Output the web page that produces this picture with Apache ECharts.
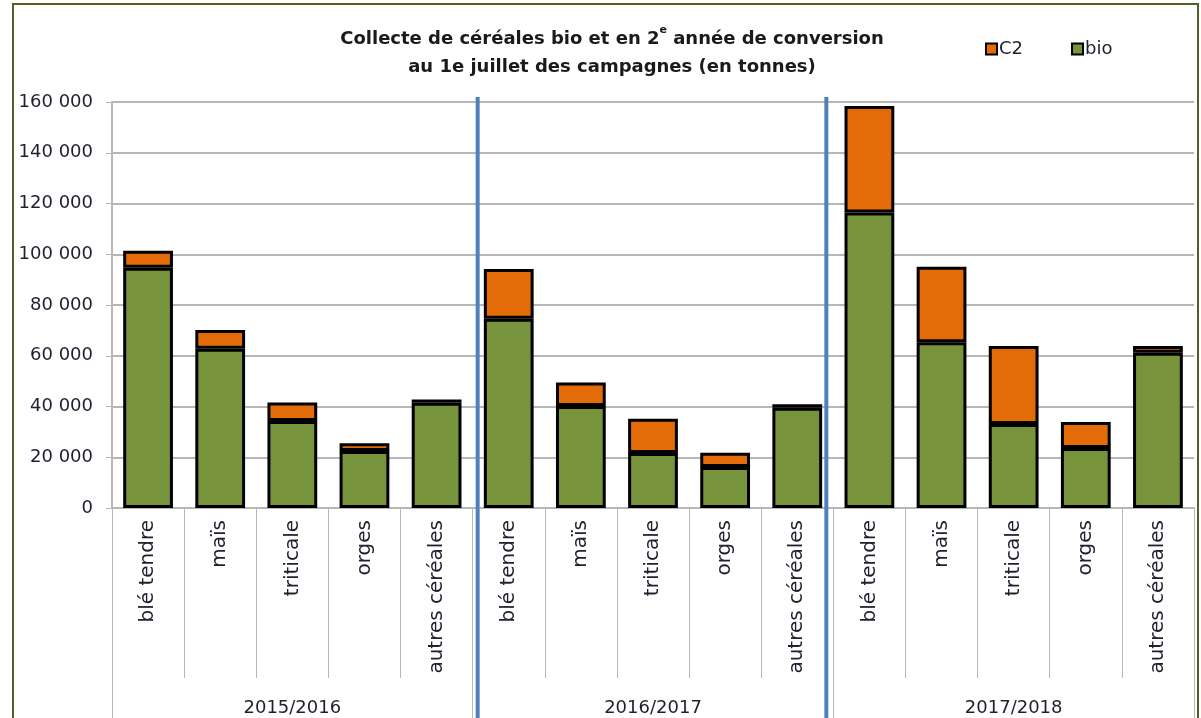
<!DOCTYPE html>
<html>
<head>
<meta charset="utf-8">
<script src="https://cdn.jsdelivr.net/npm/echarts@6/dist/echarts.min.js"></script>
<style>
  html, body { margin: 0; padding: 0; background: #fff; }
  #main { width: 1201px; height: 718px; }
</style>
</head>
<body>
<div id="main"></div>
<script>
// campagnes et céréales
var years = ["2015/2016", "2016/2017", "2017/2018"];
var crops = ["blé tendre", "maïs", "triticale", "orges", "autres céréales"];

// tonnes (5 céréales par campagne)
var bio = [
  94700, 62800, 34300, 22500, 41500,
  74600, 40200, 21700, 16200, 39500,
  116500, 65300, 33100, 23600, 61200
];
var c2 = [
  6700, 7300, 7300, 3000, 1300,
  19600, 9300, 13500, 5600, 1400,
  41900, 29800, 30700, 10300, 2600
];

var yTicks = [0, 20000, 40000, 60000, 80000, 100000, 120000, 140000, 160000];

var categories = [];
years.forEach(function () {
  crops.forEach(function (c) { categories.push(c); });
});

var font = "DejaVu Sans";
var gridGray = "#b7b7b7";
var txt = "#1f1f2e";

function fmt(v) {
  return String(v).replace(/\B(?=(\d{3})+(?!\d))/g, " ");
}

var chart = echarts.init(document.getElementById("main"));

var option = {
  animation: false,
  backgroundColor: "#fff",
  textStyle: { fontFamily: font },
  title: {
    text: "Collecte de céréales bio et en 2{sup|e} année de conversion\nau 1e juillet des campagnes (en tonnes)",
    left: 607,
    textAlign: "center",
    top: 20,
    textStyle: {
      fontFamily: font,
      fontSize: 18,
      fontWeight: "bold",
      color: "#1a1a1a",
      lineHeight: 28,
      rich: {
        sup: { fontSize: 11, fontWeight: "bold", verticalAlign: "top", lineHeight: 28, padding: [0, 0, 8, 0] }
      }
    }
  },
  legend: {
    data: ["C2", "bio"],
    left: 980,
    top: 35,
    icon: "rect",
    itemWidth: 11,
    itemHeight: 11,
    itemGap: 48,
    textStyle: { fontFamily: font, fontSize: 18, color: txt, padding: [0, 0, 0, -3] }
  },
  grid: { left: 112, right: 7, top: 102, bottom: 210 },
  xAxis: [
    {
      type: "category",
      data: categories,
      position: "bottom",
      axisLine: { lineStyle: { color: gridGray, width: 2 } },
      axisTick: { show: true, interval: 0, length: 170, lineStyle: { color: gridGray, width: 1 } },
      axisLabel: { interval: 0, rotate: 90, margin: 12, fontFamily: font, fontSize: 20, color: txt }
    },
    {
      type: "category",
      data: years,
      position: "bottom",
      axisLine: { show: false },
      axisTick: { show: true, interval: 0, length: 210, lineStyle: { color: gridGray, width: 1 } },
      axisLabel: { margin: 191, fontFamily: font, fontSize: 18, color: txt }
    }
  ],
  yAxis: {
    type: "value",
    min: 0,
    max: 160000,
    interval: 20000,
    axisLine: { show: true, lineStyle: { color: gridGray, width: 2 } },
    axisTick: { show: true, length: 6, lineStyle: { color: gridGray } },
    splitLine: { lineStyle: { color: gridGray, width: 2 } },
    axisLabel: {
      margin: 19,
      fontFamily: font,
      fontSize: 18,
      color: txt,
      formatter: function (v) { return yTicks.indexOf(v) >= 0 ? fmt(v) : ""; }
    }
  },
  series: [
    {
      name: "bio",
      type: "bar",
      stack: "total",
      xAxisIndex: 0,
      barCategoryGap: "31%",
      data: bio,
      itemStyle: { color: "#77933c", borderColor: "#000", borderWidth: 3 }
    },
    {
      name: "C2",
      type: "bar",
      stack: "total",
      xAxisIndex: 0,
      barCategoryGap: "31%",
      data: c2,
      itemStyle: { color: "#e36c09", borderColor: "#000", borderWidth: 3 }
    }
  ]
};

chart.setOption(option);

// séparateurs bleus entre campagnes + cadre vert
var sepNudge = [5, -7];
var lines = [];
[1, 2].forEach(function (k, i) {
  var a = chart.convertToPixel({ xAxisIndex: 0 }, k * crops.length - 1);
  var b = chart.convertToPixel({ xAxisIndex: 0 }, k * crops.length);
  var x = (a + b) / 2 + sepNudge[i];
  lines.push({
    type: "line",
    z: 100,
    shape: { x1: x, y1: 97, x2: x, y2: 718 },
    style: { stroke: "#4f81bd", lineWidth: 4 }
  });
});
lines.push({
  type: "rect",
  z: 100,
  shape: { x: 13, y: 4, width: 1185, height: 730 },
  style: { fill: null, stroke: "#4f6228", lineWidth: 2 }
});
chart.setOption({ graphic: lines });
</script>
</body>
</html>
